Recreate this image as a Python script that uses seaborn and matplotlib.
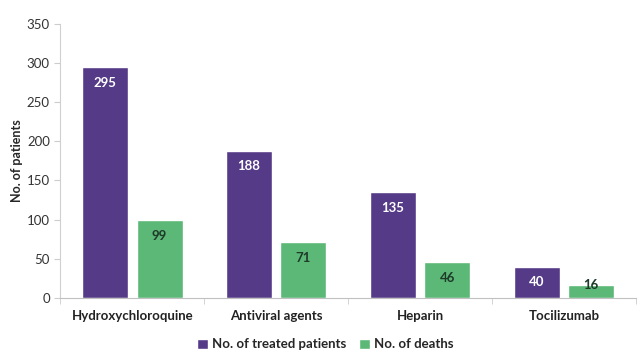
import pandas as pd
import seaborn as sns
import matplotlib.pyplot as plt

sns.set_style("white")
plt.rcParams['font.family'] = ['Lato', 'DejaVu Sans']

drugs = ['Hydroxychloroquine', 'Antiviral agents', 'Heparin', 'Tocilizumab']
treated = [295, 188, 135, 40]
deaths = [99, 71, 46, 16]
series = ['No. of treated patients', 'No. of deaths']

df = pd.DataFrame({
    'drug': drugs * 2,
    'value': treated + deaths,
    'series': [series[0]] * 4 + [series[1]] * 4,
})

palette = {series[0]: '#553a87', series[1]: '#5cb876'}

fig = plt.figure(figsize=(6.41, 3.58), dpi=100)
ax = fig.add_axes([0.094, 0.168, 0.898, 0.765])

sns.barplot(data=df, x='drug', y='value', hue='series', palette=palette,
            width=0.76, gap=0.16, saturation=1, ax=ax)

# labels sit just inside the bar top, but never below the baseline
label_colors = ['white', '#1e3b2a']
for cont, c in zip(ax.containers, label_colors):
    for bar in cont:
        v = bar.get_height()
        ax.text(bar.get_x() + bar.get_width() / 2, max(v - 20, 17), f'{v:.0f}',
                ha='center', va='center', color=c, fontsize=9.5, fontweight='bold')

ax.set_ylim(0, 350)
ax.set_yticks(range(0, 351, 50))
ax.set_xlim(-0.5, 3.5)
ax.set_xticks([-0.5, 0.5, 1.5, 2.5, 3.5], minor=True)
ax.tick_params(axis='x', which='major', length=0, pad=9, labelsize=9.5, labelcolor='#222222')
ax.tick_params(axis='x', which='minor', length=4, color='#cccccc', direction='out', bottom=True)
ax.tick_params(axis='y', length=4, color='#cccccc', direction='out', left=True, labelsize=9.5,
               labelcolor='#333333')
for lbl in ax.get_xticklabels():
    lbl.set_fontweight('bold')

ax.set_xlabel('')
ax.set_ylabel('No. of patients', fontsize=9, fontweight='bold', labelpad=3)

sns.despine(ax=ax)
ax.spines['left'].set_color('#d0d0d0')
ax.spines['bottom'].set_color('#c0c0c0')

ax.legend(loc='upper center', bbox_to_anchor=(0.46, -0.105), ncol=2, frameon=False,
          handlelength=0.8, handleheight=0.8, handletextpad=0.3,
          columnspacing=1.0, prop={'weight': 'bold', 'size': 9.5})

fig.savefig('out.png', dpi=100)
